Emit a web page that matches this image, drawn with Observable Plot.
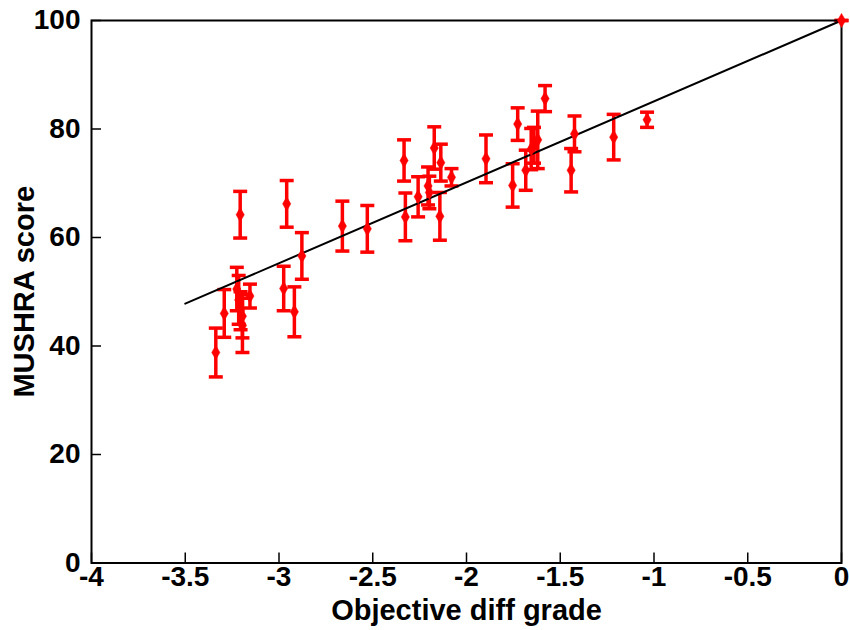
<!DOCTYPE html>
<html>
<head>
<meta charset="utf-8">
<script src="https://cdn.jsdelivr.net/npm/d3@7"></script>
<script src="https://cdn.jsdelivr.net/npm/@observablehq/plot@0.6"></script>
<style>
  html, body { margin: 0; padding: 0; background: #fff; }
  #chart svg { display: block; }
</style>
</head>
<body>
<div id="chart"></div>
<script>
// Objective diff grade (x), MUSHRA score mean (y), confidence half-width (err)
const gradeX = [-3.337, -3.292, -3.225, -3.215, -3.205, -3.195, -3.195, -3.155, -3.207,
  -2.959, -2.975, -2.918, -2.878, -2.662, -2.529,
  -2.333, -2.326, -2.258, -2.205, -2.198, -2.172, -2.137, -2.142, -2.080,
  -1.896, -1.754, -1.727, -1.684, -1.655, -1.640, -1.620, -1.581,
  -1.424, -1.442, -1.215, -1.037, 0];
const mushraY = [38.8, 46.0, 50.5, 48.5, 46.5, 45.5, 43.8, 49.2, 64.2,
  66.2, 50.6, 46.3, 56.6, 62.1, 61.6,
  74.2, 63.8, 67.5, 69.5, 68.3, 76.5, 73.8, 63.9, 71.1,
  74.5, 69.6, 80.9, 72.4, 76.3, 77.0, 78.0, 85.6,
  79.1, 72.4, 78.5, 81.7, 100];
const errY = [4.5, 4.4, 4.0, 4.5, 3.5, 4.0, 5.0, 2.2, 4.3,
  4.3, 4.1, 4.6, 4.3, 4.6, 4.3,
  3.8, 4.4, 3.7, 3.5, 3.0, 3.9, 3.4, 4.4, 1.6,
  4.4, 4.0, 3.0, 3.7, 3.8, 3.3, 5.3, 2.4,
  3.3, 4.0, 4.2, 1.4, 0];

// Linear fit line end points
const fitX = [-3.5, 0];
const fitY = [47.8, 100];

const xTicks = [-4, -3.5, -3, -2.5, -2, -1.5, -1, -0.5, 0];
const yTicks = [0, 20, 40, 60, 80, 100];

const points = gradeX.map((x, i) => ({x, y: mushraY[i], lo: mushraY[i] - errY[i], hi: mushraY[i] + errY[i]}));
const fit = fitX.map((x, i) => ({x, y: fitY[i]}));

const capSymbol = {
  draw(ctx, size) {
    const w = Math.sqrt(size / Math.PI);
    ctx.moveTo(-w, 0);
    ctx.lineTo(w, 0);
  }
};

const W = 850, H = 630;
const mL = 91, mR = 9, mT = 20, mB = 67.5;
const innerH = H - mT - mB;
const innerW = W - mL - mR;
const font = "'Liberation Sans', Arial, sans-serif";

const chart = Plot.plot({
  width: W,
  height: H,
  marginLeft: mL,
  marginRight: mR,
  marginTop: mT,
  marginBottom: mB,
  style: {fontFamily: font, background: "#fff", overflow: "visible"},
  x: {domain: [-4, 0], ticks: xTicks},
  y: {domain: [0, 100], ticks: yTicks},
  marks: [
    // error bars
    Plot.ruleX(points, {x: "x", y1: "lo", y2: "hi", stroke: "#ff0000", strokeWidth: 3.5}),
    Plot.dot(points, {x: "x", y: "lo", symbol: capSymbol, r: 7, stroke: "#ff0000", strokeWidth: 3.5, fill: "none"}),
    Plot.dot(points, {x: "x", y: "hi", symbol: capSymbol, r: 7, stroke: "#ff0000", strokeWidth: 3.5, fill: "none"}),
    // fit line
    Plot.line(fit, {x: "x", y: "y", stroke: "#000", strokeWidth: 2}),
    // inward ticks
    Plot.tickX(xTicks, {x: d => d, insetTop: innerH - 10, stroke: "#000", strokeWidth: 1.5}),
    Plot.tickY(yTicks, {y: d => d, insetRight: innerW - 10, stroke: "#000", strokeWidth: 1.5}),
    Plot.frame({stroke: "#000", strokeWidth: 2}),
    // markers
    Plot.dot(points, {x: "x", y: "y", symbol: "diamond", r: 4.3, fill: "#ff0000", stroke: "#ff0000", strokeWidth: 0.5}),
    // axes
    Plot.axisX(xTicks, {tickSize: 0, tickPadding: 3, fontSize: 28, fontWeight: "bold", tickFormat: d => String(d), label: null}),
    Plot.axisY(yTicks, {tickSize: 0, tickPadding: 11, fontSize: 28, fontWeight: "bold", tickFormat: d => String(d), label: null}),
    Plot.text(["Objective diff grade"], {frameAnchor: "bottom", dy: 48, fontSize: 29, fontWeight: "bold", fill: "#000", textAnchor: "middle", lineAnchor: "middle"}),
    Plot.text(["MUSHRA score"], {frameAnchor: "left", rotate: -90, dx: -67, fontSize: 29, fontWeight: "bold", fill: "#000", textAnchor: "middle", lineAnchor: "middle"})
  ]
});

document.getElementById("chart").appendChild(chart);
</script>
</body>
</html>
